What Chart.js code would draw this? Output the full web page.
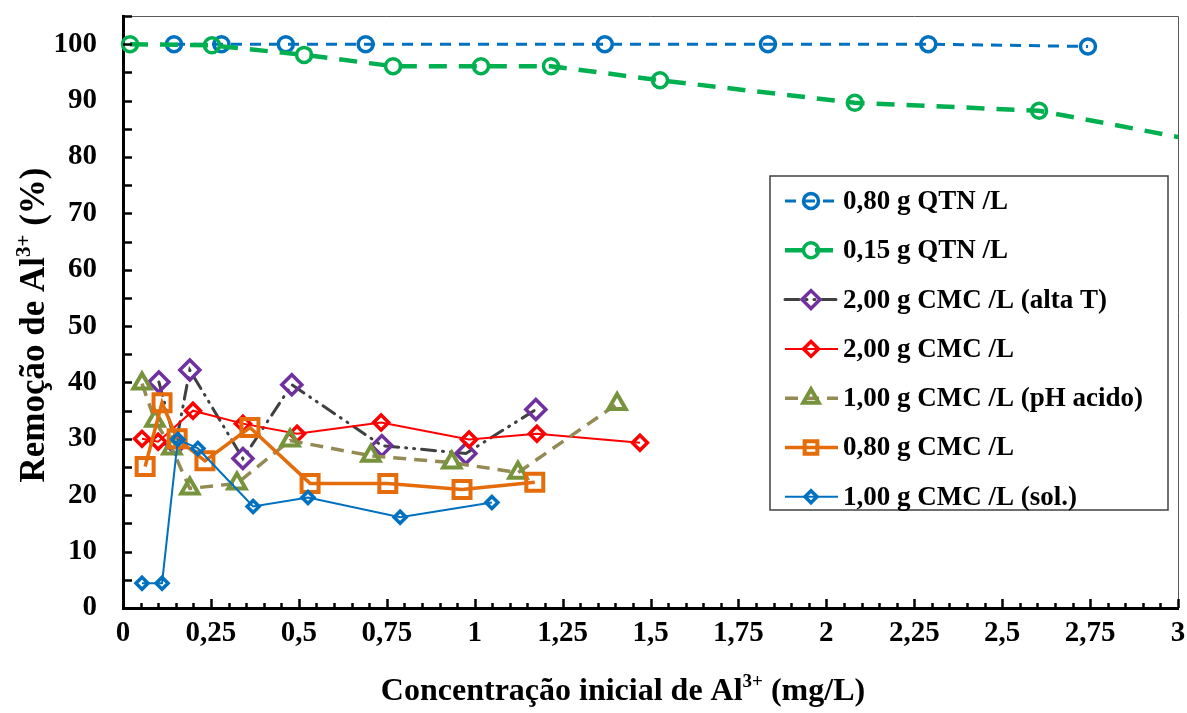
<!DOCTYPE html>
<html>
<head>
<meta charset="utf-8">
<script src="https://cdn.jsdelivr.net/npm/chart.js@4.4.1/dist/chart.umd.min.js"></script>
<style>
  body { margin: 0; background: #fff; }
</style>
</head>
<body>
<canvas id="chart" width="1187" height="713"></canvas>
<script>
// values
const seriesNames = ['0,80 g QTN /L', '0,15 g QTN /L', '2,00 g CMC /L (alta T)', '2,00 g CMC /L',
                     '1,00 g CMC /L (pH acido)', '0,80 g CMC /L', '1,00 g CMC /L (sol.)'];

const qtn080X = [0.145, 0.28, 0.463, 0.69, 1.37, 1.834, 2.29, 2.744];
const qtn080Y = [100, 100, 100, 100, 100, 100, 100, 99.6];

const qtn015X = [0.02, 0.253, 0.515, 0.768, 1.018, 1.217, 1.527, 2.081, 2.605, 3.03];
const qtn015Y = [100, 99.8, 98.1, 96.1, 96.1, 96.1, 93.6, 89.6, 88.2, 83.2];

const cmcAltaX = [0.102, 0.15, 0.19, 0.341, 0.48, 0.736, 0.975, 1.174];
const cmcAltaY = [40.1, 29, 42.2, 26.5, 39.6, 28.8, 27.4, 35.2];

const cmc200X = [0.054, 0.1, 0.199, 0.341, 0.495, 0.734, 0.984, 1.177, 1.47];
const cmc200Y = [30.0, 29.5, 35.0, 32.7, 30.9, 32.9, 29.9, 30.9, 29.3];

const cmcAcidoX = [0.054, 0.091, 0.139, 0.19, 0.324, 0.475, 0.705, 0.935, 1.123, 1.405];
const cmcAcidoY = [39.8, 33.2, 28.3, 21.2, 22.1, 29.7, 27.0, 25.8, 24.0, 36.2];

const cmc080X = [0.063, 0.111, 0.154, 0.233, 0.361, 0.532, 0.753, 0.964, 1.171];
const cmc080Y = [25.1, 36.4, 30.0, 26.1, 32.0, 22.1, 22.1, 21.0, 22.3];

const cmcSolX = [0.054, 0.111, 0.156, 0.213, 0.37, 0.526, 0.788, 1.049];
const cmcSolY = [4.4, 4.4, 29.9, 28.3, 18.0, 19.6, 16.1, 18.7];

const xTickLabels = ['0', '0,25', '0,5', '0,75', '1', '1,25', '1,5', '1,75', '2', '2,25', '2,5', '2,75', '3'];
const yTickLabels = ['0', '10', '20', '30', '40', '50', '60', '70', '80', '90', '100'];

const FONT = "'Liberation Serif', 'Times New Roman', serif";

function pts(xs, ys) {
  return xs.map((x, i) => ({ x: x, y: ys[i] }));
}

function series(i, xs, ys, s) {
  return {
    label: seriesNames[i],
    data: pts(xs, ys),
    showLine: true,
    tension: 0,
    borderColor: s.line,
    borderWidth: s.width,
    borderDash: s.dash || [],
    borderCapStyle: s.cap || 'butt',
    pointStyle: s.style,
    pointRadius: s.r,
    pointHoverRadius: s.r,
    pointBorderColor: s.mark,
    pointBackgroundColor: 'rgba(0,0,0,0)',
    pointBorderWidth: s.bw,
    order: 10 - i,
    clip: s.clip
  };
}

const datasets = [
  series(0, qtn080X, qtn080Y, { line: '#0070C0', mark: '#0070C0', width: 3, dash: [11, 8], style: 'circle', r: 7.5, bw: 3.5 }),
  series(1, qtn015X, qtn015Y, { line: '#00B050', mark: '#00B050', width: 4.5, dash: [18, 12], style: 'circle', r: 7.5, bw: 3.5,
                                clip: { left: 20, top: 20, right: 0, bottom: 0 } }),
  series(2, cmcAltaX, cmcAltaY, { line: '#404040', mark: '#7030A0', width: 3, dash: [14, 7, 1, 7, 1, 7], cap: 'round', style: 'rectRot', r: 10, bw: 3.5 }),
  series(3, cmc200X, cmc200Y, { line: '#FF0000', mark: '#FF0000', width: 2, style: 'rectRot', r: 7.5, bw: 3.5 }),
  series(4, cmcAcidoX, cmcAcidoY, { line: '#948A54', mark: '#77933C', width: 3.5, dash: [13, 8], style: 'triangle', r: 10, bw: 4 }),
  series(5, cmc080X, cmc080Y, { line: '#E46C0A', mark: '#E46C0A', width: 3.5, style: 'rect', r: 12, bw: 4 }),
  series(6, cmcSolX, cmcSolY, { line: '#0070C0', mark: '#0070C0', width: 2, style: 'rectRot', r: 6, bw: 3.5 })
];

function marker(ctx, style, r, x, y) {
  ctx.beginPath();
  if (style === 'circle') {
    ctx.arc(x, y, r, 0, Math.PI * 2);
  } else if (style === 'rect') {
    const h = r * Math.SQRT1_2;
    ctx.rect(x - h, y - h, 2 * h, 2 * h);
  } else if (style === 'rectRot') {
    ctx.moveTo(x - r, y); ctx.lineTo(x, y - r); ctx.lineTo(x + r, y); ctx.lineTo(x, y + r); ctx.closePath();
  } else if (style === 'triangle') {
    for (let k = 0; k < 3; k++) {
      const a = k * 2 * Math.PI / 3;
      const px = x + Math.sin(a) * r, py = y - Math.cos(a) * r;
      if (k === 0) ctx.moveTo(px, py); else ctx.lineTo(px, py);
    }
    ctx.closePath();
  }
  ctx.stroke();
}

// text with a superscript part, centred on (0,0) of the current transform
function richText(ctx, parts, size) {
  const big = 'bold ' + size + 'px ' + FONT;
  const small = 'bold ' + Math.round(size * 0.6) + 'px ' + FONT;
  let total = 0;
  parts.forEach(p => { ctx.font = p[1] ? small : big; total += ctx.measureText(p[0]).width; });
  let x = -total / 2;
  ctx.textAlign = 'left';
  ctx.textBaseline = 'alphabetic';
  parts.forEach(p => {
    ctx.font = p[1] ? small : big;
    ctx.fillText(p[0], x, p[1] ? -size * 0.4 : 0);
    x += ctx.measureText(p[0]).width;
  });
}

const PLOT_RIGHT = 1178;

const decor = {
  id: 'decor',
  // the last x label makes chart.js keep a wide right margin; pull the plot edge out to match the reference
  afterLayout(chart) {
    const a = chart.chartArea, x = chart.scales.x;
    a.right = PLOT_RIGHT;
    a.width = a.right - a.left;
    x.right = PLOT_RIGHT;
    x.width = x.right - x.left;
    x.configure();
  },
  afterDraw(chart) {
    const ctx = chart.ctx, a = chart.chartArea;
    const sx = chart.scales.x, sy = chart.scales.y;
    ctx.save();

    // thin frame on top and right
    ctx.strokeStyle = '#595959';
    ctx.lineWidth = 1;
    ctx.beginPath();
    ctx.moveTo(a.left, a.top + 0.5);
    ctx.lineTo(a.right + 0.5, a.top + 0.5);
    ctx.lineTo(a.right + 0.5, a.bottom);
    ctx.stroke();

    // inward tick marks
    ctx.strokeStyle = '#000';
    ctx.lineWidth = 2.5;
    ctx.beginPath();
    for (let v = 0; v <= 105; v += 5) {
      const py = Math.round(sy.getPixelForValue(v)) + 0.5;
      ctx.moveTo(a.left, py); ctx.lineTo(a.left + 9, py);
    }
    for (let k = 0; k <= 60; k++) {
      const px = Math.round(sx.getPixelForValue(k * 0.05)) + 0.5;
      ctx.moveTo(px, a.bottom); ctx.lineTo(px, a.bottom - (k % 5 === 0 ? 9 : 5));
    }
    ctx.stroke();

    // axis titles
    ctx.fillStyle = '#000';
    ctx.save();
    ctx.translate(623, 700);
    richText(ctx, [['Concentração inicial de Al', false], ['3+', true], [' (mg/L)', false]], 32);
    ctx.restore();
    ctx.save();
    ctx.translate(44, 325);
    ctx.rotate(-Math.PI / 2);
    richText(ctx, [['Remoção de Al', false], ['3+', true], [' (%)', false]], 35);
    ctx.restore();

    // legend
    ctx.fillStyle = '#fff';
    ctx.fillRect(770, 176, 398, 334);
    ctx.strokeStyle = '#404040';
    ctx.lineWidth = 1.5;
    ctx.strokeRect(770, 176, 398, 334);
    chart.data.datasets.forEach((ds, i) => {
      const y = 201 + i * 49.3;
      ctx.strokeStyle = ds.borderColor;
      ctx.lineWidth = ds.borderWidth;
      ctx.lineCap = ds.borderCapStyle;
      ctx.setLineDash(ds.borderDash);
      ctx.beginPath();
      ctx.moveTo(785, y); ctx.lineTo(838, y);
      ctx.stroke();
      ctx.setLineDash([]);
      ctx.lineCap = 'butt';
      ctx.strokeStyle = ds.pointBorderColor;
      ctx.lineWidth = ds.pointBorderWidth;
      marker(ctx, ds.pointStyle, Math.min(ds.pointRadius, 9), 811, y);
      ctx.fillStyle = '#000';
      ctx.font = 'bold 27px ' + FONT;
      ctx.textAlign = 'left';
      ctx.textBaseline = 'middle';
      ctx.fillText(ds.label, 843, y + 1);
    });
    ctx.restore();
  }
};

new Chart(document.getElementById('chart'), {
  type: 'scatter',
  data: { datasets: datasets },
  options: {
    responsive: false,
    animation: false,
    layout: { padding: { left: 0, right: 4, top: 13, bottom: 0 } },
    plugins: { legend: { display: false }, tooltip: { enabled: false } },
    scales: {
      x: {
        type: 'linear',
        min: 0,
        max: 3,
        afterFit: s => { s.height = 105; s.paddingLeft = 0; s.paddingRight = 0; },
        ticks: {
          stepSize: 0.25,
          autoSkip: false,
          maxRotation: 0,
          padding: 8,
          color: '#000',
          font: { family: FONT, size: 29, weight: 'bold' },
          callback: (v, i) => xTickLabels[i]
        },
        grid: { display: false, drawTicks: false },
        border: { display: true, color: '#000', width: 3 }
      },
      y: {
        min: 0,
        max: 105,
        afterFit: s => { s.width = 123; s.paddingTop = 0; s.paddingBottom = 0; },
        ticks: {
          stepSize: 5,
          autoSkip: false,
          padding: 26,
          color: '#000',
          font: { family: FONT, size: 29, weight: 'bold' },
          callback: v => (v % 10 === 0 ? yTickLabels[v / 10] : '')
        },
        grid: { display: false, drawTicks: false },
        border: { display: true, color: '#000', width: 3 }
      }
    }
  },
  plugins: [decor]
});
</script>
</body>
</html>
